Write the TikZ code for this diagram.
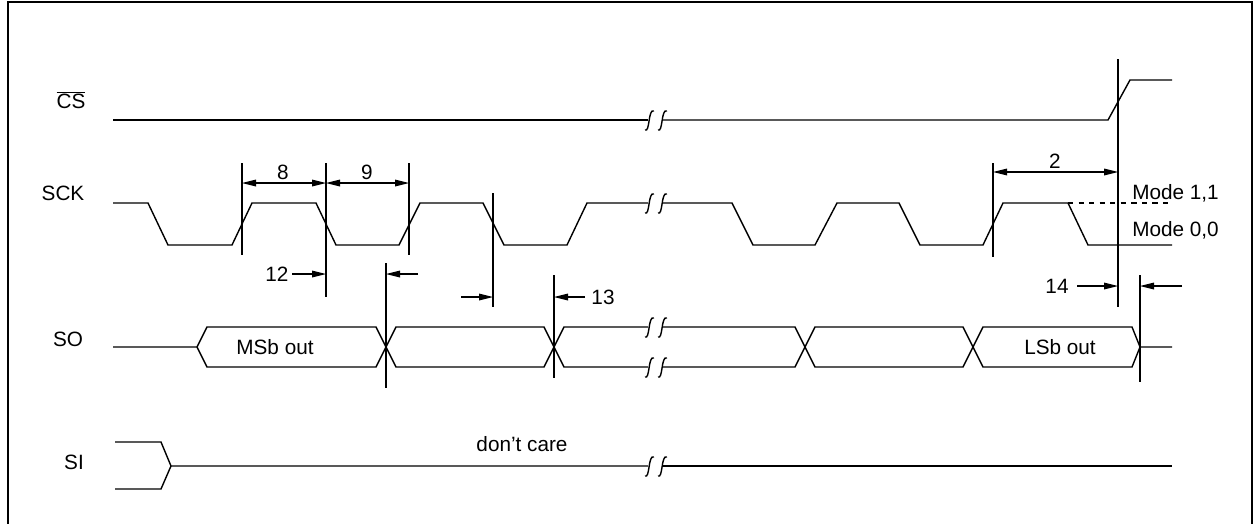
\documentclass[tikz,border=0pt]{standalone}
\usepackage{fontspec}
\setmainfont{Liberation Sans}
\newcommand{\sigfont}{\fontsize{11.8}{14}\selectfont}

\begin{document}
\begin{tikzpicture}[x=0.02cm, y=0.02cm, font=\sigfont]
\tikzstyle{every node}+=[inner sep=0pt]
\tikzstyle{wave}=[black, line width=0.8pt]
\tikzstyle{marker}=[black, line width=1.3pt]
\useasboundingbox (0,0) rectangle (1255,-524);
% frame
\draw [black, line width=1.3pt] (8,-530) -- (8,-2) -- (1252,-2) -- (1252,-530);
% signal names
\node (cs) at (71,-100) {$\overline{\hbox{\sigfont CS}}$};
\node (sck) at (63,-193) {SCK};
\node (so) at (68,-339) {SO};
\node (si) at (74,-462) {SI};
% CS
\draw [wave, line width=1.1pt] (113,-120) -- (648,-120);
\draw [wave] (663,-120) -- (1108,-120) -- (1130,-80) -- (1172,-80);
% SCK
\draw [wave] (113,-203) -- (148,-203) -- (168,-245) -- (232,-245) -- (252,-203) -- (316,-203) -- (336,-245) -- (399,-245) -- (420,-203) -- (483,-203) -- (504,-245) -- (567,-245) -- (587,-203) -- (648,-203);
\draw [wave] (663,-203) -- (732,-203) -- (753,-245) -- (815,-245) -- (837,-203) -- (899,-203) -- (920,-245) -- (983,-245) -- (1003,-203) -- (1068,-203) -- (1088,-245) -- (1172,-245);
\draw [wave, dash pattern=on 3pt off 3pt] (1068,-203) -- (1172,-203);
\node [anchor=west] (mode11) at (1132,-193) {Mode 1,1};
\node [anchor=west] (mode00) at (1132,-230) {Mode 0,0};
% SO
\draw [wave] (113,-347) -- (197,-347) -- (207,-327) -- (376,-327) -- (396,-367) -- (544,-367) -- (564,-327) -- (648,-327);
\draw [wave] (197,-347) -- (207,-367) -- (376,-367) -- (396,-327) -- (544,-327) -- (564,-367) -- (648,-367);
\draw [wave] (663,-327) -- (795,-327) -- (815,-367) -- (963,-367) -- (983,-327) -- (1132,-327) -- (1140,-347) -- (1172,-347);
\draw [wave] (663,-367) -- (795,-367) -- (815,-327) -- (963,-327) -- (983,-367) -- (1132,-367) -- (1140,-347);
\node (msb) at (275,-347) {MSb out};
\node (lsb) at (1060,-347) {LSb out};
% SI
\draw [wave] (115,-442) -- (161,-442) -- (171,-466) -- (648,-466);
\draw [wave] (115,-489) -- (161,-489) -- (171,-466);
\draw [wave] (663,-466) -- (1172,-466);
\node (dontcare) at (522,-444) {don’t care};
% breaks
\foreach \y in {120,203,327,367,466} {
  \draw [wave] (645,-\y-10) .. controls (650,-\y-13) and (648,-\y+12) .. (654,-\y+9);
  \draw [wave] (658,-\y-10) .. controls (663,-\y-13) and (661,-\y+12) .. (667,-\y+9);
}
% timing markers
\draw [marker] (242,-163) -- (242,-255);
\draw [marker] (326,-163) -- (326,-297);
\draw [marker] (409,-163) -- (409,-255);
\draw [marker] (386,-263) -- (386,-388);
\draw [marker] (493,-193) -- (493,-307);
\draw [marker] (554,-275) -- (554,-378);
\draw [marker] (993,-163) -- (993,-257);
\draw [marker] (1118,-59) -- (1118,-307);
\draw [marker] (1140,-275) -- (1140,-382);
% 8
\draw [wave] (256,-183) -- (312,-183);
\fill [black] (242,-183) -- (256,-179.5) -- (256,-186.5);
\fill [black] (326,-183) -- (312,-179.5) -- (312,-186.5);
\node (t8) at (283,-172) {8};
% 9
\draw [wave] (340,-183) -- (395,-183);
\fill [black] (326,-183) -- (340,-179.5) -- (340,-186.5);
\fill [black] (409,-183) -- (395,-179.5) -- (395,-186.5);
\node (t9) at (367,-172) {9};
% 12
\draw [wave, line width=1.1pt] (292,-274) -- (312,-274);
\fill [black] (326,-274) -- (312,-270.5) -- (312,-277.5);
\node (t12) at (277,-274) {12};
\draw [wave, line width=1.1pt] (418,-274) -- (400,-274);
\fill [black] (386,-274) -- (400,-270.5) -- (400,-277.5);
% 13
\draw [wave, line width=1.1pt] (461,-297) -- (479,-297);
\fill [black] (493,-297) -- (479,-293.5) -- (479,-300.5);
\draw [wave, line width=1.1pt] (585,-297) -- (568,-297);
\fill [black] (554,-297) -- (568,-293.5) -- (568,-300.5);
\node (t13) at (603,-297) {13};
% 2
\draw [wave] (1007,-172) -- (1104,-172);
\fill [black] (993,-172) -- (1007,-168.5) -- (1007,-175.5);
\fill [black] (1118,-172) -- (1104,-168.5) -- (1104,-175.5);
\node (t2) at (1055,-161) {2};
% 14
\draw [wave, line width=1.1pt] (1077,-286) -- (1104,-286);
\fill [black] (1118,-286) -- (1104,-282.5) -- (1104,-289.5);
\draw [wave, line width=1.1pt] (1182,-286) -- (1154,-286);
\fill [black] (1140,-286) -- (1154,-282.5) -- (1154,-289.5);
\node (t14) at (1057,-286) {14};
\end{tikzpicture}
\end{document}
